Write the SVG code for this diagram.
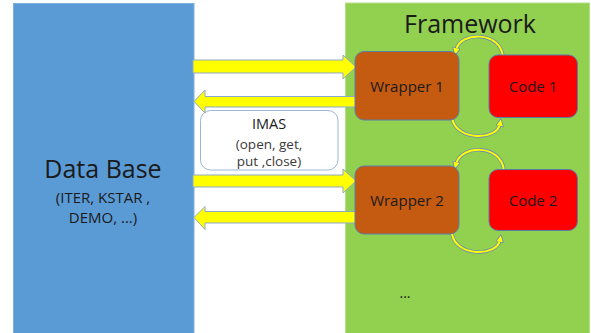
<svg xmlns="http://www.w3.org/2000/svg" width="591" height="333" viewBox="0 0 591 333">
  <defs>
    <style>
      .lbl { font-family: "Open Sans", "Noto Sans", "Liberation Sans", sans-serif; fill: #1a1a1a; text-anchor: middle; }
      .sub { font-family: "Open Sans", "Noto Sans", "Liberation Sans", sans-serif; fill: #3a3a3a; text-anchor: middle; }
      .block { fill: #ffff00; stroke: #8ea9c8; stroke-width: 1; }
      .box { stroke: #5a7fa8; stroke-width: 1; }
      .arc-edge { fill: none; stroke: #6f8fb0; stroke-width: 3.6; stroke-linecap: round; }
      .arc-core { fill: none; stroke: #ffff00; stroke-width: 2; stroke-linecap: round; }
    </style>
    <marker id="head2" viewBox="0 0 10 10" refX="3" refY="5" markerWidth="8" markerHeight="8" orient="auto" markerUnits="userSpaceOnUse">
      <path d="M0,0 L10,5 L0,10 Z" fill="#ffff00" stroke="#6f8fb0" stroke-width="1.2"/>
    </marker>
  </defs>

  <rect width="591" height="333" fill="#ffffff"/>

  <!-- data store column -->
  <g id="database">
    <rect x="13.5" y="3.5" width="180.5" height="335" fill="#5b9bd5" stroke="#7fb0e0" stroke-width="1"/>
    <text class="lbl" x="103" y="178" font-size="25">Data Base</text>
    <text class="lbl" x="103" y="203" font-size="15">(ITER, KSTAR ,</text>
    <text class="lbl" x="103" y="223" font-size="15">DEMO, ...)</text>
  </g>

  <!-- framework column -->
  <g id="framework">
    <rect x="345.5" y="3" width="244" height="335" fill="#92d050" stroke="#b5e08a" stroke-width="1"/>
    <text class="lbl" x="470" y="33" font-size="25">Framework</text>
    <text class="lbl" x="405" y="298" font-size="14">...</text>
  </g>

  <!-- API label -->
  <g id="imas">
    <rect x="200.5" y="110.5" width="137.5" height="59.5" rx="10" fill="#ffffff" stroke="#9db6d6" stroke-width="1"/>
    <text class="lbl" x="269" y="129" font-size="14.5">IMAS</text>
    <text class="sub" x="269" y="149" font-size="13.5">(open, get,</text>
    <text class="sub" x="269" y="166" font-size="13.5">put ,close)</text>
  </g>

  <!-- connectors -->
  <g id="connectors">
    <path class="block" d="M193,60 H343 V55 L356,67 L343,79 V73 H193 Z"/>
    <path class="block" d="M360,96.5 H205 V90 L194,101.5 L205,113 V107 H360 Z"/>
    <path class="block" d="M193,175 H343 V169 L356,181 L343,193 V187 H193 Z"/>
    <path class="block" d="M360,211.5 H205 V206.5 L194,217.5 L205,229.5 V223 H360 Z"/>

    <!-- wrapper/code call loops -->
    <path class="arc-edge" d="M503,57 C501,31 460,31 456,50"/>
    <path class="arc-core" d="M503,57 C501,31 460,31 456,50" marker-end="url(#head2)"/>
    <path class="arc-edge" d="M452,118 C456,141 497,141 500,124"/>
    <path class="arc-core" d="M452,118 C456,141 497,141 500,124" marker-end="url(#head2)"/>

    <path class="arc-edge" d="M504,171 C502,144 461,144 456,164"/>
    <path class="arc-core" d="M504,171 C502,144 461,144 456,164" marker-end="url(#head2)"/>
    <path class="arc-edge" d="M452,234 C456,257 497,257 500,240"/>
    <path class="arc-core" d="M452,234 C456,257 497,257 500,240" marker-end="url(#head2)"/>
  </g>

  <g id="wrapper1">
    <rect class="box" x="355" y="51.5" width="104" height="68.5" rx="9" fill="#c55a11"/>
    <text class="lbl" x="407" y="92" font-size="15">Wrapper 1</text>
  </g>
  <g id="code1">
    <rect class="box" x="489" y="55" width="88.5" height="62.5" rx="9" fill="#ff0000"/>
    <text class="lbl" x="533" y="92" font-size="15">Code 1</text>
  </g>
  <g id="wrapper2">
    <rect class="box" x="355" y="166" width="104" height="68" rx="9" fill="#c55a11"/>
    <text class="lbl" x="407" y="206" font-size="15">Wrapper 2</text>
  </g>
  <g id="code2">
    <rect class="box" x="489" y="169.5" width="88.5" height="61" rx="9" fill="#ff0000"/>
    <text class="lbl" x="533" y="206" font-size="15">Code 2</text>
  </g>
</svg>
